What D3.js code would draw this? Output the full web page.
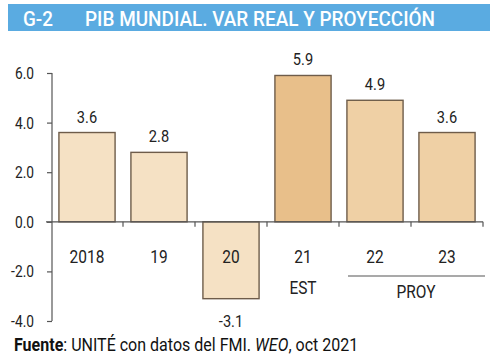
<!DOCTYPE html>
<html><head><meta charset="utf-8">
<script src="https://cdn.jsdelivr.net/npm/d3@7"></script>
<style>
body{margin:0;background:#fff;}
text{font-family:"Roboto","Noto Sans",sans-serif;}
</style></head>
<body>
<svg id="c" width="500" height="357"></svg>
<script>
const categories = ["2018","19","20","21","22","23"];
const values = [3.6, 2.8, -3.1, 5.9, 4.9, 3.6];
const yTicks = [-4, -2, 0, 2, 4, 6];
const barColors = ["#F5E1C4","#F5E1C4","#F5E1C4","#E8BF8A","#EFD0A5","#EFD0A5"];
const title = "PIB MUNDIAL. VAR REAL Y PROYECCIÓN";
const titleCode = "G-2";

const svg = d3.select("#c");
const x = d3.scaleBand().domain(categories).range([51, 483]).paddingInner(0.22).paddingOuter(0.11);
const y = d3.scaleLinear().domain([-4, 6]).range([321, 73]);
const SX = 0.86;

function ctext(parent, px, py, opts){
  const g = parent.append("g").attr("transform",`translate(${px},${py}) scale(${opts.sx||SX},1)`);
  const t = g.append("text").attr("x",0).attr("y",0)
    .attr("text-anchor",opts.anchor||"start")
    .attr("font-size",opts.size||17)
    .attr("font-weight",opts.weight||"normal")
    .attr("fill",opts.fill||"#222");
  if(opts.text!==undefined) t.text(opts.text);
  return {g,t};
}
function fitWidth(obj, px, py, w){
  const L = obj.t.node().getComputedTextLength();
  obj.g.attr("transform",`translate(${px},${py}) scale(${w/L},1)`);
}

// title bar
svg.append("rect").attr("x",8).attr("y",4).attr("width",482).attr("height",27).attr("fill","#5AABE1");
const tc = ctext(svg,23,26,{text:titleCode,size:21,weight:500,fill:"#fff"});
fitWidth(tc,23,26,30);
const tt = ctext(svg,85,26,{text:title,size:21,weight:500,fill:"#fff"});
fitWidth(tt,85,26,350);

// bars
svg.selectAll("rect.bar").data(values).enter().append("rect").attr("class","bar")
  .attr("x",(d,i)=>x(categories[i]))
  .attr("width",x.bandwidth())
  .attr("y",d=>y(Math.max(0,d)))
  .attr("height",d=>Math.abs(y(d)-y(0)))
  .attr("fill",(d,i)=>barColors[i])
  .attr("stroke","#6E5C4A").attr("stroke-width",1.4);

// y axis
const yAxis = d3.axisLeft(y).tickValues(yTicks).tickFormat("").tickSize(5);
const gy = svg.append("g").attr("transform","translate(52,0)").call(yAxis);
gy.select(".domain").attr("stroke","#555").attr("stroke-width",1.2).attr("d","M-0,73V321");
gy.selectAll(".tick line").attr("stroke","#555").attr("stroke-width",1.2);
yTicks.forEach(v=>{
  const s = v<0 ? "-"+d3.format(".1f")(-v) : d3.format(".1f")(v);
  ctext(svg,34,y(v)+6,{text:s,size:16,anchor:"end"});
});

// x axis line and ticks
const gx = svg.append("g").attr("transform",`translate(0,${y(0)})`);
gx.append("line").attr("x1",46).attr("x2",483).attr("stroke","#555").attr("stroke-width",1.2);
const step = x.step();
const edges = categories.map((c,i)=> 51 + step*(i+1));
gx.selectAll("line.t").data(edges).enter().append("line").attr("class","t")
  .attr("x1",d=>d).attr("x2",d=>d).attr("y1",0).attr("y2",5).attr("stroke","#555").attr("stroke-width",1.2);

// category labels
categories.forEach(c=>{
  ctext(svg,x(c)+x.bandwidth()/2,263,{text:c,size:18,anchor:"middle"});
});

// value labels
values.forEach((d,i)=>{
  const s = d<0 ? "-"+Math.abs(d).toFixed(1) : d.toFixed(1);
  ctext(svg,x(categories[i])+x.bandwidth()/2, d>=0 ? y(d)-10 : y(d)+28,{text:s,size:17,anchor:"middle"});
});

// EST / PROY
ctext(svg,x("21")+x.bandwidth()/2,294,{text:"EST",size:18,anchor:"middle"});
svg.append("line").attr("x1",348).attr("x2",485).attr("y1",276).attr("y2",276).attr("stroke","#555").attr("stroke-width",1.2);
ctext(svg,416,298,{text:"PROY",size:18,anchor:"middle"});

// footer
const fo = ctext(svg,14,351,{size:18,fill:"#111"});
fo.t.append("tspan").attr("font-weight","bold").text("Fuente");
fo.t.append("tspan").text(": UNITÉ con datos del FMI. ");
fo.t.append("tspan").attr("font-style","italic").text("WEO");
fo.t.append("tspan").text(", oct 2021");
fitWidth(fo,14,351,344);
</script>
</body></html>
